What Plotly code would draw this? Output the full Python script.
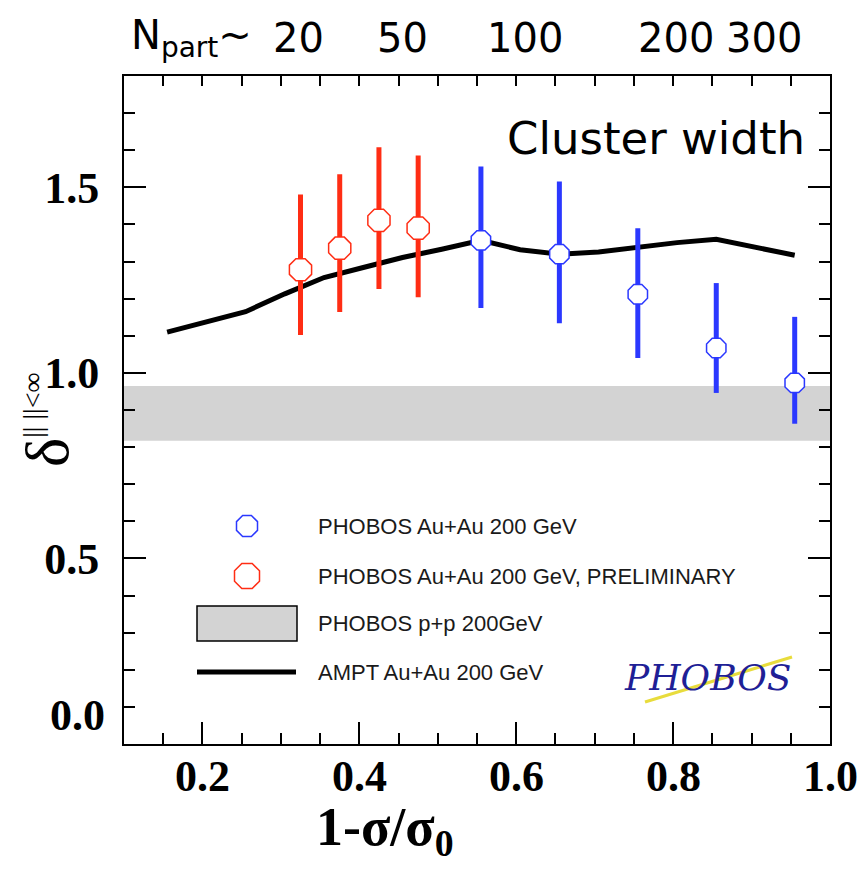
import math
import plotly.graph_objects as go

# AMPT Au+Au 200 GeV model curve
ampt_x = [0.155, 0.205, 0.255, 0.305, 0.355, 0.405, 0.455, 0.505, 0.555,
          0.605, 0.655, 0.705, 0.755, 0.805, 0.855, 0.905, 0.955]
ampt_y = [1.110, 1.137, 1.165, 1.213, 1.257, 1.284, 1.311, 1.333, 1.357,
          1.332, 1.320, 1.326, 1.339, 1.351, 1.360, 1.338, 1.317]

# PHOBOS Au+Au 200 GeV, preliminary
prelim_x = [0.325, 0.375, 0.425, 0.475]
prelim_y = [1.278, 1.336, 1.411, 1.390]
prelim_hi = [1.481, 1.535, 1.608, 1.586]
prelim_lo = [1.102, 1.164, 1.226, 1.204]

# PHOBOS Au+Au 200 GeV
final_x = [0.555, 0.655, 0.755, 0.855, 0.955]
final_y = [1.357, 1.320, 1.212, 1.067, 0.973]
final_hi = [1.556, 1.516, 1.390, 1.242, 1.151]
final_lo = [1.175, 1.134, 1.040, 0.946, 0.863]

# PHOBOS p+p 200 GeV band
pp_x = [0.1, 1.0]
pp_low = 0.817
pp_high = 0.965

# Number of participants along the top
npart_labels = ["20", "50", "100", "200", "300"]
npart_x = [0.322, 0.455, 0.611, 0.804, 0.916]

x_ticks = [0.2, 0.4, 0.6, 0.8, 1.0]
y_ticks = [0.0, 0.5, 1.0, 1.5]

RED = "#ff2d14"
BLUE = "#2b38ff"
W, H = 866, 871
L, R, T, B = 124, 36, 76, 127
PW, PH = W - L - R, H - T - B

def px(x):
    return (x - L) / PW

def py(y):
    return (H - B - y) / PH

serif = "Liberation Serif"
sans = "DejaVu Sans"

fig = go.Figure()

# p+p band
fig.add_trace(go.Scatter(
    x=pp_x + pp_x[::-1], y=[pp_low, pp_low, pp_high, pp_high],
    fill="toself", fillcolor="#d3d3d3", line=dict(width=0),
    mode="lines", hoverinfo="skip", showlegend=False))

# AMPT curve
fig.add_trace(go.Scatter(
    x=ampt_x, y=ampt_y, mode="lines",
    line=dict(color="black", width=5), showlegend=False))

def add_points(xs, ys, hi, lo, color, size):
    fig.add_trace(go.Scatter(
        x=xs, y=ys, mode="markers",
        marker=dict(symbol="octagon", size=size, color="white",
                    line=dict(color=color, width=1.5)),
        error_y=dict(type="data", symmetric=False,
                     array=[h - v for h, v in zip(hi, ys)],
                     arrayminus=[v - l for v, l in zip(ys, lo)],
                     color=color, thickness=5, width=0),
        showlegend=False))

add_points(prelim_x, prelim_y, prelim_hi, prelim_lo, RED, 24)
add_points(final_x, final_y, final_hi, final_lo, BLUE, 21)

shapes = []
annotations = []

def octagon(cx, cy, d, color):
    r = d / 2 / math.cos(math.pi / 8)
    pts = [(r * math.cos(math.pi / 8 + k * math.pi / 4),
            r * math.sin(math.pi / 8 + k * math.pi / 4)) for k in range(8)]
    path = "M " + " L ".join(f"{a:.2f},{b:.2f}" for a, b in pts) + " Z"
    shapes.append(dict(type="path", xref="paper", yref="paper",
                       xsizemode="pixel", ysizemode="pixel",
                       xanchor=px(cx), yanchor=py(cy), path=path,
                       fillcolor="white", line=dict(color=color, width=1.5)))

# legend
octagon(247, 526, 21, BLUE)
octagon(247, 576, 25, RED)
shapes.append(dict(type="rect", xref="paper", yref="paper",
                   x0=px(197), x1=px(297), y0=py(641), y1=py(606),
                   fillcolor="#d3d3d3", line=dict(color="black", width=1.5)))
shapes.append(dict(type="line", xref="paper", yref="paper",
                   x0=px(197), x1=px(296), y0=py(672), y1=py(672),
                   line=dict(color="black", width=5)))
legend_text = ["PHOBOS Au+Au 200 GeV",
               "PHOBOS Au+Au 200 GeV, PRELIMINARY",
               "PHOBOS p+p 200GeV",
               "AMPT Au+Au 200 GeV"]
for txt, yy in zip(legend_text, [526, 576, 623, 672]):
    annotations.append(dict(text=txt, xref="paper", yref="paper",
                            x=px(316), y=py(yy), xanchor="left", yanchor="middle",
                            showarrow=False,
                            font=dict(family="Liberation Sans", size=22, color="#1a1a1a")))

# experiment logo
shapes.append(dict(type="line", xref="paper", yref="paper",
                   x0=px(645), y0=py(702), x1=px(792), y1=py(657),
                   line=dict(color="#e8dc3c", width=3)))
annotations.append(dict(text="<i>PHOBOS</i>", xref="paper", yref="paper",
                        x=px(707), y=py(677), xanchor="center", yanchor="middle",
                        showarrow=False,
                        font=dict(family="DejaVu Serif", size=36, color="#1f1f96")))

# title inside the frame
annotations.append(dict(text="Cluster width", xref="paper", yref="paper",
                        x=px(807), y=py(138), xanchor="right", yanchor="middle",
                        showarrow=False, font=dict(family=sans, size=45, color="black")))

# top labels
annotations.append(dict(text="N<sub>part</sub>~", xref="paper", yref="paper",
                        x=px(129), y=py(38), xanchor="left", yanchor="middle",
                        showarrow=False, font=dict(family=sans, size=40, color="black")))
for lab, xv in zip(npart_labels, npart_x):
    annotations.append(dict(text=lab, x=xv, xref="x", yref="paper", y=py(38),
                            xanchor="center", yanchor="middle", showarrow=False,
                            font=dict(family=sans, size=40, color="black")))

# x tick labels
for v in x_ticks:
    annotations.append(dict(text=f"<b>{v:.1f}</b>", x=v, xref="x", yref="paper",
                            y=py(776), xanchor="center", yanchor="middle",
                            showarrow=False,
                            font=dict(family=serif, size=44, color="black")))

# zero label sits a little above its tick
annotations.append(dict(text="<b>0.0</b>", xref="paper", yref="y",
                        x=px(107), y=0.0, yshift=29, xanchor="right", yanchor="middle",
                        showarrow=False, font=dict(family=serif, size=44, color="black")))

# axis titles
annotations.append(dict(text="<b>1-σ/σ<sub>0</sub></b>", xref="paper", yref="paper",
                        x=px(385), y=py(830), xanchor="center", yanchor="middle",
                        showarrow=False, font=dict(family=serif, size=54, color="black")))
annotations.append(dict(text="δ<sup><span style='font-size:28px'>|| ||&lt;∞</span></sup>",
                        xref="paper", yref="paper",
                        x=px(47), y=py(420), xanchor="center", yanchor="middle",
                        textangle=-90, showarrow=False,
                        font=dict(family=serif, size=62, color="black")))

fig.update_layout(
    width=W, height=H,
    margin=dict(l=L, r=R, t=T, b=B),
    paper_bgcolor="white", plot_bgcolor="white",
    shapes=shapes, annotations=annotations, showlegend=False,
    xaxis=dict(range=[0.1, 1.0], showgrid=False, zeroline=False,
               showline=True, linecolor="black", linewidth=2, mirror=False,
               ticks="inside", ticklen=22, tickwidth=2, tickcolor="black",
               tickvals=x_ticks, showticklabels=False,
               minor=dict(dtick=0.05, tick0=0.0, ticks="inside", ticklen=11,
                          tickwidth=2, tickcolor="black", showgrid=False)),
    xaxis2=dict(range=[0.1, 1.0], overlaying="x", side="top", showgrid=False,
                zeroline=False, showline=True, linecolor="black", linewidth=2,
                ticks="inside", ticklen=10, tickwidth=2, tickcolor="black",
                dtick=0.05, tick0=0.0, showticklabels=False),
    yaxis=dict(range=[0.0, 1.8], showgrid=False, zeroline=False,
               showline=True, linecolor="black", linewidth=2, mirror="ticks",
               ticks="inside", ticklen=22, tickwidth=2, tickcolor="black",
               tickvals=y_ticks,
               ticktext=["" if v == 0 else f"<b>{v:.1f}</b>" for v in y_ticks],
               tickfont=dict(family=serif, size=44, color="black"),
               ticklabelstandoff=14,
               minor=dict(dtick=0.1, tick0=0.0, ticks="inside", ticklen=11,
                          tickwidth=2, tickcolor="black", showgrid=False)),
)

# empty trace so the top axis is drawn
fig.add_trace(go.Scatter(x=[None], y=[None], xaxis="x2", showlegend=False))

fig.write_html("out.html")
